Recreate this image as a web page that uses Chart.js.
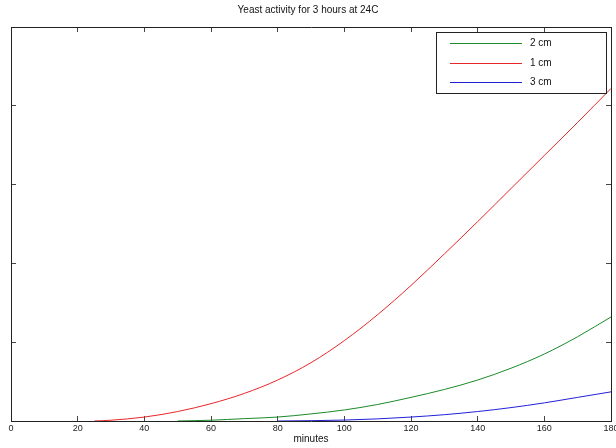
<!DOCTYPE html>
<html>
<head>
<meta charset="utf-8">
<script src="https://cdn.jsdelivr.net/npm/chart.js@4"></script>
<style>
  body { margin: 0; background: #fff; }
</style>
</head>
<body>
<canvas id="yeastChart" width="616" height="448"></canvas>
<script>
// Series data
const minutesTicks = [0, 20, 40, 60, 80, 100, 120, 140, 160, 180];

const labels2cm = "2 cm";
const minutes2cm = [50, 60, 70, 80, 90, 100, 110, 120, 130, 140, 150, 160, 170, 180];
const values2cm = [0, 0.01, 0.03, 0.05, 0.09, 0.14, 0.21, 0.30, 0.40, 0.52, 0.67, 0.85, 1.07, 1.32];

const labels1cm = "1 cm";
const minutes1cm = [25, 30, 40, 50, 60, 70, 80, 90, 100, 110, 120, 130, 140, 150, 160, 170, 180];
const values1cm = [0, 0.01, 0.05, 0.12, 0.22, 0.35, 0.52, 0.74, 1.02, 1.35, 1.72, 2.12, 2.53, 2.95, 3.37, 3.79, 4.22];

const labels3cm = "3 cm";
const minutes3cm = [80, 90, 100, 110, 120, 130, 140, 150, 160, 170, 180];
const values3cm = [0, 0.004, 0.012, 0.027, 0.05, 0.08, 0.12, 0.17, 0.23, 0.30, 0.37];

function pts(xs, ys) {
    return xs.map((x, i) => ({ x: x, y: ys[i] }));
}

const tickFont = { family: "'Liberation Sans Narrow', 'Liberation Sans', Arial, sans-serif", size: 9 };
const edge = { color: "#222", width: 1 };
const inward = { drawOnChartArea: false, tickLength: -5, color: "#444" };

const datasets = [
    { label: labels2cm, data: pts(minutes2cm, values2cm), borderColor: "#1a8a2a" },
    { label: labels1cm, data: pts(minutes1cm, values1cm), borderColor: "#e8262a" },
    { label: labels3cm, data: pts(minutes3cm, values3cm), borderColor: "#2020d8" }
];
datasets.forEach(d => {
    d.borderWidth = 1;
    d.pointRadius = 0;
    d.fill = false;
    d.cubicInterpolationMode = "monotone";
});

// boxed legend in the upper right of the plot (matlab style)
const boxLegend = {
    id: "boxLegend",
    afterDraw(chart) {
        const ctx = chart.ctx;
        const a = chart.chartArea;
        const x0 = a.right - 175, y0 = a.top + 5;
        ctx.save();
        ctx.fillStyle = "#fff";
        ctx.fillRect(x0, y0, 170, 61);
        ctx.strokeStyle = "#222";
        ctx.lineWidth = 1;
        ctx.strokeRect(x0 + 0.5, y0 + 0.5, 170, 61);
        ctx.font = "10px 'Liberation Sans', Arial, sans-serif";
        ctx.textBaseline = "middle";
        chart.data.datasets.forEach((d, i) => {
            const y = Math.round(y0 + 11 + i * 19.5) + 0.5;
            ctx.strokeStyle = d.borderColor;
            ctx.beginPath();
            ctx.moveTo(x0 + 14, y);
            ctx.lineTo(x0 + 86, y);
            ctx.stroke();
            ctx.fillStyle = "#111";
            ctx.fillText(d.label, x0 + 94, y);
        });
        ctx.restore();
    }
};

new Chart(document.getElementById("yeastChart"), {
    type: "line",
    data: { datasets: datasets },
    plugins: [boxLegend],
    options: {
        responsive: false,
        animation: false,
        layout: { autoPadding: false, padding: 0 },
        plugins: {
            legend: { display: false },
            tooltip: { enabled: false },
            title: {
                display: true,
                text: "Yeast activity for 3 hours at 24C",
                color: "#111",
                font: { family: "'Liberation Sans', Arial, sans-serif", size: 10, weight: "normal" },
                padding: { top: 4, bottom: 11 }
            }
        },
        scales: {
            x: {
                type: "linear", position: "bottom", min: 0, max: 180,
                afterBuildTicks: s => { s.ticks = minutesTicks.map(v => ({ value: v })); },
                ticks: { color: "#222", font: tickFont, padding: 7, maxRotation: 0 },
                grid: inward, border: edge,
                title: {
                    display: true, text: "minutes", color: "#111",
                    font: { family: "'Liberation Sans', Arial, sans-serif", size: 10 },
                    padding: { top: 0, bottom: 3 }
                },
                afterFit: s => { s.height = 27; s.paddingLeft = 0; s.paddingRight = 0; }
            },
            xTop: {
                type: "linear", position: "top", min: 0, max: 180,
                afterBuildTicks: s => { s.ticks = minutesTicks.map(v => ({ value: v })); },
                ticks: { display: false },
                grid: inward, border: edge,
                afterFit: s => { s.height = 0; s.paddingLeft = 0; s.paddingRight = 0; }
            },
            y: {
                type: "linear", position: "left", min: 0, max: 5,
                ticks: { display: false, stepSize: 1 },
                grid: inward, border: edge,
                afterFit: s => { s.width = 11; s.paddingTop = 0; s.paddingBottom = 0; }
            },
            yRight: {
                type: "linear", position: "right", min: 0, max: 5,
                ticks: { display: false, stepSize: 1 },
                grid: inward, border: edge,
                afterFit: s => { s.width = 5; s.paddingTop = 0; s.paddingBottom = 0; }
            }
        }
    }
});
</script>
</body>
</html>
